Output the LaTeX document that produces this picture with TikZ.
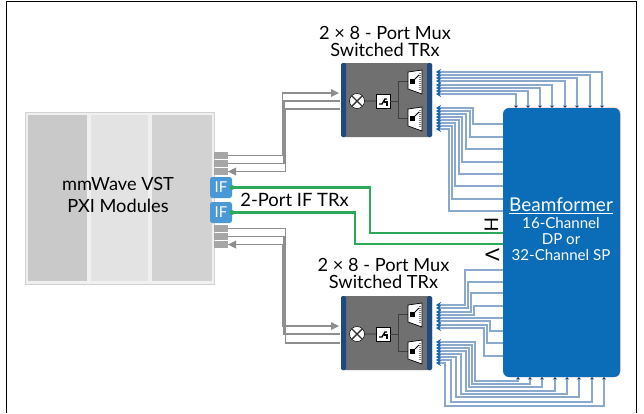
\documentclass[tikz,border=0pt]{standalone}
\usepackage{fontspec}
\usepackage{tikz}
\usetikzlibrary{arrows.meta}
\setmainfont{Lato}
\definecolor{panelA}{HTML}{C9C9C9}
\definecolor{panelB}{HTML}{E3E3E3}
\definecolor{panelC}{HTML}{D2D2D2}
\definecolor{stubgray}{HTML}{A6A6A6}
\definecolor{linegray}{HTML}{8E8E8E}
\definecolor{muxgray}{HTML}{707070}
\definecolor{bandblue}{HTML}{1D4A80}
\definecolor{ifblue}{HTML}{4A98D6}
\definecolor{rfline}{HTML}{8BA9CD}
\definecolor{rftip}{HTML}{1563AE}
\definecolor{ifgreen}{HTML}{2CAA5A}
\definecolor{bfblue}{HTML}{0B6CB8}

\begin{document}
\begin{tikzpicture}[x=1pt, y=-1pt, every node/.style={inner sep=0pt, outer sep=0pt}]
	\tikzset{panel/.style={minimum height=166, minimum width=#1},
		stub/.style={fill=stubgray, minimum width=14, minimum height=7.4},
		iface/.style={fill=ifblue, rounded corners=2.5, minimum width=22, minimum height=21, text=white, font=\fontsize{15}{15}\selectfont},
		graywire/.style={linegray, line width=1.8},
		greenwire/.style={ifgreen, line width=2.6},
		rf/.style={rfline, line width=1.3, {Stealth[length=5, width=6, color=rftip]}-},
		pin/.style={rfline, line width=1.3, {Stealth[length=5, width=6, color=rftip]}-{Stealth[length=2.5, width=4, color=bandblue!80!black]}},
		title/.style={font=\fontsize{18.2}{17}\selectfont, align=center},
		wire/.style={black!75, line width=0.6}}

	\useasboundingbox (0,0) rectangle (644,413);
	\fill[white] (0,0) rectangle (644,413);
	\draw[black, line width=1] (6,413) -- (6,1.5) -- (636,1.5) -- (636,413);

	\node[fill=black!6, draw=black!18, line width=1, minimum width=189, minimum height=172] (vst) at (119.5,198) {};
	\node[panel=59, fill=panelA] (c1) at (57.5,198) {};
	\node[panel=57, fill=panelB] (c2) at (119.5,198) {};
	\node[panel=60, fill=panelC] (c3) at (182,198) {};
	\node[font=\fontsize{18.2}{22}\selectfont, align=center] (vt) at (118,195) {mmWave VST\\PXI Modules};

	\foreach \n/\y in {1/155.5,2/163.5,3/171.5,4/228.5,5/236.5,6/244.5}
		\node[stub] (p\n) at (221,\y) {};

	\draw[graywire] (p1.east) -- (282.5,155.5) -- (282.5,93) -- (333,93);
	\draw[graywire] (p2.east) -- (284,163.5) -- (284,101) -- (340,101);
	\draw[graywire] (p3.east) -- (285.5,171.5) -- (285.5,109) -- (340,109);
	\draw[graywire] (p4.east) -- (285.5,228.5) -- (285.5,343) -- (340,343);
	\draw[graywire] (p5.east) -- (284,236.5) -- (284,334) -- (340,334);
	\draw[graywire] (p6.east) -- (282.5,244.5) -- (282.5,326) -- (333,326);
	\fill[linegray] (339,93) -- (331,89) -- (331,97) -- cycle;
	\fill[linegray] (339,326) -- (331,322) -- (331,330) -- cycle;
	\fill[linegray] (p3.east) -- ++(8,-4) -- ++(0,8) -- cycle;
	\fill[linegray] (p6.east) -- ++(8,-4) -- ++(0,8) -- cycle;

	\foreach \n/\dy in {1/0,2/233}{
		\begin{scope}[shift={(0,\dy)}]
			\node[fill=muxgray, rounded corners=2, minimum width=91, minimum height=74] (m\n) at (386.5,100) {};
			\fill[bandblue, rounded corners=1.5] (341,63) rectangle (346,137);
			\fill[bandblue, rounded corners=1.5] (427,63) rectangle (432,137);
			\node[circle, fill=white, draw=black, line width=0.5, minimum size=15] (x\n) at (357,101) {};
			\draw[black!80, line width=1.4] (x\n.45) -- (x\n.225) (x\n.135) -- (x\n.-45);
			\node[fill=white, draw=black, line width=0.6, minimum size=14] (s\n) at (383,101) {};
			\draw[black, line width=1.4] (s\n.center) ++(-4,3) -- ++(3,0) -- ++(3,-5) -- ++(2,0);
			\draw[black, line width=1.4] (s\n.center) ++(1,1) -- ++(3,0) -- ++(0,4);
			\draw[black!65, line width=1.2] (x\n) -- (s\n);
			\coordinate (w\n) at (398,101);
			\draw[wire] (s\n) -- (w\n);
			\coordinate (u\n) at (408,81);
			\coordinate (v\n) at (408,118);
			\draw[wire] (w\n) |- (u\n);
			\draw[wire] (w\n) |- (v\n);
			\foreach \t in {0,37}{
				\filldraw[fill=white, draw=black, line width=0.7] (408,72+\t) -- (422,70+\t) -- (422,94+\t) -- (408,89+\t) -- cycle;
				\draw[black!50, line width=1.5, dash pattern=on 1 off 1] (420,73+\t) -- (420,91+\t);
				\fill[black] (410,79+\t) rectangle (415,84+\t);
				\draw[black, line width=0.8] (414,80+\t) -- (419,75+\t);
			}
		\end{scope}
	}

	\foreach \i/\y/\x in {1/72/602,2/75/590,3/78/577,4/81/565,5/85/552,6/88/540,7/91/528,8/94/516}{
		\coordinate (a\i) at (436,\y);
		\coordinate (b\i) at (\x,108);
		\draw[pin] (a\i) -| (b\i);
	}
	\foreach \i/\y/\x/\e in {1/108/473/124,2/111/470/137,3/114/466/149,4/117/462/162,5/120/459/174,6/123/455/186,7/126/452/199,8/129/449/211}{
		\coordinate (c\i) at (436,\y);
		\coordinate (d\i) at (504,\e);
		\draw[rf] (c\i) -- (\x,\y) -- (\x,\e) -- (d\i);
	}
	\foreach \i/\y/\x/\e in {1/305/465/270,2/308/468/282,3/312/471/293,4/315/474/306,5/318/480/318,6/321/490/331,7/325/487/343,8/328/484/356}{
		\coordinate (e\i) at (436,\y);
		\coordinate (f\i) at (504,\e);
		\draw[rf] (e\i) -- (\x,\y) -- (\x,\e) -- (f\i);
	}
	\foreach \i/\y/\x/\w/\p in {1/342/475/381/518,2/345/472/384/530,3/348/469/387/542,4/351/466/391/555,5/354/461/394/567,6/357/456/397/579,7/360/451/402/592,8/363/445/406/604}{
		\coordinate (j\i) at (436,\y);
		\coordinate (k\i) at (\p,377);
		\draw[pin] (j\i) -- (\x,\y) -- (\x,\w) -- (\p,\w) -- (k\i);
	}

	\fill[red!35!white, rounded corners=6] (504,107.5) rectangle (620.5,377);
	\node[fill=bfblue, rounded corners=6, minimum width=117, minimum height=269, anchor=north west] (bf) at (503,108) {};

	\node[iface] (i1) at (221,187.5) {IF};
	\node[iface] (i2) at (221,212.5) {IF};
	\draw[greenwire] (i1.east) -- (370,187.5) -- (370,233) -- (bf.west |- 0,233);
	\draw[greenwire] (i2.east) -- (355,212.5) -- (355,244) -- (bf.west |- 0,244);
	\fill[ifgreen] (i1.east) circle (2.4);
	\fill[ifgreen] (i2.east) circle (2.4);

	\node[title] (t1) at (385,41.5) {2 × 8 - Port Mux\\Switched TRx};
	\node[title] (t2) at (383.5,273) {2 × 8 - Port Mux\\Switched TRx};
	\node[font=\fontsize{18.4}{17}\selectfont] (t3) at (294.5,200) {2-Port IF TRx};
	\node[rotate=-90, font=\fontsize{19}{17}\selectfont] (h) at (491.5,224.5) {H};
	\node[rotate=-90, font=\fontsize{19}{17}\selectfont] (v) at (492.5,255) {V};
	\node[text=white, font=\fontsize{15.1}{16.3}\selectfont, align=center, anchor=north] (bt) at (561,198)
		{{\fontsize{19}{16.3}\selectfont\underline{Beamformer}}\\16-Channel\\DP or\\32-Channel SP};
\end{tikzpicture}
\end{document}
